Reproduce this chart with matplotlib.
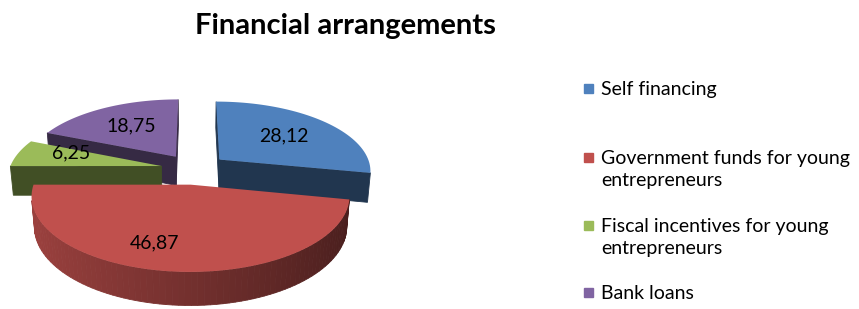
import numpy as np
import matplotlib.pyplot as plt
from matplotlib.patches import Rectangle

# chart data
labels = ["Self financing",
          "Government funds for young\nentrepreneurs",
          "Fiscal incentives for young\nentrepreneurs",
          "Bank loans"]
values = [28.12, 46.87, 6.25, 18.75]
value_text = ["28,12", "46,87", "6,25", "18,75"]
colors = ["#4f81bd", "#c0504d", "#9bbb59", "#8064a2"]

# 3d pie geometry (pixels / radius units)
CX, CY = 194, 169       # screen position of pie centre (top face)
R = 152                 # radius in px
SIN_EL = 0.455          # tilt of the view
COS_EL = np.sqrt(1 - SIN_EL ** 2)
D = 6.0                 # camera distance (perspective)
H = 0.22                # pie thickness
EXPLODE = 0.22
FONT = "Lato"
# excel nudges the big slice label a little
label_nudge = {1: (-26, 10), 2: (-3, -5)}

cam = np.array([0.0, -D * COS_EL, D * SIN_EL])


def project(p):
    x, y, z = p
    depth = y * COS_EL - z * SIN_EL
    f = D / (D + depth)
    up = y * SIN_EL + z * COS_EL
    return CX + R * x * f, CY - R * up * f


def shade(c, k):
    rgb = np.array(plt.matplotlib.colors.to_rgb(c))
    return tuple(np.clip(rgb * k, 0, 1))


def visible(pts, normal):
    centre = np.mean(pts, axis=0)
    return np.dot(normal, cam - centre) > 0


fig = plt.figure(figsize=(8.59, 3.09), dpi=100)
ax = fig.add_axes([0, 0, 1, 1])
ax.set_xlim(0, 859)
ax.set_ylim(309, 0)
ax.axis("off")

# slices go clockwise from 12 o'clock, like excel
total = sum(values)
slices = []
start = 90.0
for i, v in enumerate(values):
    sweep = 360.0 * v / total
    t2 = np.radians(start)
    t1 = np.radians(start - sweep)
    mid = (t1 + t2) / 2
    off = EXPLODE * np.array([np.cos(mid), np.sin(mid), 0.0])
    slices.append((i, t1, t2, mid, off))
    start -= sweep

# paint back to front
slices.sort(key=lambda s: -s[4][1])

for i, t1, t2, mid, off in slices:
    col = colors[i]
    n = max(int(np.degrees(t2 - t1) / 2), 4)
    th = np.linspace(t1, t2, n + 1)
    apex_top = off.copy()
    apex_bot = off + np.array([0, 0, -H])

    # cut faces
    for t, sgn in ((t1, -1), (t2, 1)):
        d = np.array([np.cos(t), np.sin(t), 0.0])
        normal = sgn * np.array([-np.sin(t), np.cos(t), 0.0])
        pts = [apex_top, apex_top + d, apex_bot + d, apex_bot]
        if visible(pts, normal):
            xy = [project(p) for p in pts]
            ax.fill(*zip(*xy), color=shade(col, 0.42), lw=0.6, ec=shade(col, 0.42))

    # outer wall, horizontal light gradient
    for a, b in zip(th[:-1], th[1:]):
        m = (a + b) / 2
        normal = np.array([np.cos(m), np.sin(m), 0.0])
        pa = off + np.array([np.cos(a), np.sin(a), 0])
        pb = off + np.array([np.cos(b), np.sin(b), 0])
        pts = [pa, pb, pb + [0, 0, -H], pa + [0, 0, -H]]
        if visible(pts, normal):
            k = 0.6 - 0.22 * np.cos(m)
            xy = [project(p) for p in pts]
            ax.fill(*zip(*xy), color=shade(col, k), lw=0.6, ec=shade(col, k))

    # top face
    pts = [apex_top] + [off + np.array([np.cos(t), np.sin(t), 0]) for t in th]
    xy = [project(p) for p in pts]
    ax.fill(*zip(*xy), color=col, lw=0)

    lx, ly = project(off + 0.6 * np.array([np.cos(mid), np.sin(mid), 0]))
    dx, dy = label_nudge.get(i, (0, 0))
    ax.text(lx + dx, ly + dy, value_text[i], ha="center", va="center",
            fontsize=14, family=FONT, color="black")

# title
ax.text(345, 26, "Financial arrangements", ha="center", va="center",
        fontsize=21, fontweight="bold", family=FONT)

# legend
legend_y = [88, 157, 225, 292]
for i, lab in enumerate(labels):
    ax.add_patch(Rectangle((584, legend_y[i] - 4.5), 9, 9, color=colors[i]))
    ax.text(601, legend_y[i] - 7, lab, ha="left", va="top", fontsize=14,
            family=FONT, linespacing=1.35)

fig.savefig("out.png", dpi=100)
